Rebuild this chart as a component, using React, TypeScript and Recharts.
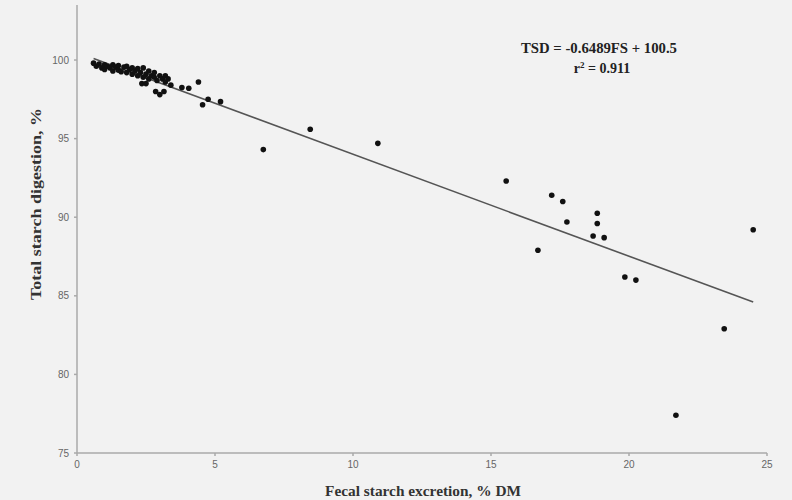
import React from "react";
import { ScatterChart, Scatter, XAxis, YAxis } from "recharts";

// fecal starch excretion, % DM
const fs = [
  0.6, 0.7, 0.8, 0.9, 1.0, 1.0, 1.1, 1.2, 1.3, 1.3, 1.4, 1.5, 1.5, 1.6, 1.7, 1.8,
  1.8, 1.9, 2.0, 2.0, 2.1, 2.2, 2.2, 2.3, 2.4, 2.4, 2.5, 2.6, 2.6, 2.7, 2.8, 2.8,
  2.9, 3.0, 3.1, 3.2, 3.2, 3.3, 3.4, 2.35, 2.5, 2.85, 3.0, 3.15, 3.8, 4.05, 4.4,
  4.55, 4.75, 5.2, 6.75, 8.45, 10.9, 15.55, 16.7, 17.2, 17.6, 17.75, 18.7, 18.85,
  18.85, 19.1, 19.85, 20.25, 21.7, 23.45, 24.5,
];
// total starch digestion, %
const tsd = [
  99.8, 99.6, 99.75, 99.5, 99.7, 99.4, 99.6, 99.5, 99.7, 99.3, 99.55, 99.65, 99.35,
  99.25, 99.55, 99.6, 99.2, 99.4, 99.5, 99.1, 99.3, 99.45, 99.0, 99.2, 99.5, 98.9,
  99.1, 99.3, 98.8, 99.0, 98.9, 99.2, 98.7, 99.0, 98.8, 99.0, 98.6, 98.8, 98.4,
  98.5, 98.5, 98.0, 97.8, 98.0, 98.25, 98.2, 98.6, 97.15, 97.5, 97.35, 94.3, 95.6,
  94.7, 92.3, 87.9, 91.4, 91.0, 89.7, 88.8, 90.25, 89.6, 88.7, 86.2, 86.0, 77.4,
  82.9, 89.2,
];
// fitted line end points (TSD = -0.6489FS + 100.5)
const fitFs = [0.6, 24.5];
const fitTsd = [100.1, 84.6];

const xTicks = [0, 5, 10, 15, 20, 25];
const yTicks = [75, 80, 85, 90, 95, 100];

const points = fs.map((x, i) => ({ fs: x, tsd: tsd[i] }));
const fit = fitFs.map((x, i) => ({ fs: x, tsd: fitTsd[i] }));

const serif = "'Liberation Serif', 'Times New Roman', serif";
const tickStyle = { fontFamily: "'Liberation Sans', Arial, sans-serif", fontSize: 10, fill: "#666" };

export default function App() {
  return (
    <div style={{ position: "absolute", left: 0, top: 0, width: 792, height: 500, background: "#f2f2f2" }}>
      <ScatterChart
        width={792}
        height={500}
        margin={{ top: 5, right: 25, bottom: 17, left: 37 }}
      >
        <XAxis
          type="number"
          dataKey="fs"
          domain={[0, 25]}
          ticks={xTicks}
          height={30}
          tickSize={3}
          tickMargin={5}
          stroke="#aaa"
          strokeWidth={1.5}
          tick={tickStyle}
        />
        <YAxis
          type="number"
          dataKey="tsd"
          domain={[75, 103.5]}
          ticks={yTicks}
          width={40}
          tickSize={3}
          tickMargin={5}
          stroke="#aaa"
          strokeWidth={1.5}
          tick={tickStyle}
          allowDataOverflow
        />
        <Scatter
          data={fit}
          line={{ stroke: "#555", strokeWidth: 1.6 }}
          shape={() => null}
          isAnimationActive={false}
        />
        <Scatter data={points} fill="#111" isAnimationActive={false}
          shape={(p: any) => <circle cx={p.cx} cy={p.cy} r={2.8} fill="#111" />}
        />
      </ScatterChart>
      <svg
        width={792}
        height={500}
        style={{ position: "absolute", left: 0, top: 0, pointerEvents: "none" }}
      >
        <text x={599} y={53} textAnchor="middle" fontFamily={serif} fontWeight="bold" fontSize={14}
          fill="#222" textLength={156} lengthAdjust="spacingAndGlyphs">
          TSD = -0.6489FS + 100.5
        </text>
        <text x={602} y={73} textAnchor="middle" fontFamily={serif} fontWeight="bold" fontSize={14} fill="#222">
          r<tspan dy={-5} fontSize={9}>2</tspan><tspan dy={5}> = 0.911</tspan>
        </text>
        <text x={423} y={496} textAnchor="middle" fontFamily={serif} fontWeight="bold" fontSize={15}
          fill="#333" textLength={196} lengthAdjust="spacingAndGlyphs">
          Fecal starch excretion, % DM
        </text>
        <text
          x={0}
          y={0}
          transform="translate(41,204) rotate(-90)"
          textAnchor="middle"
          fontFamily={serif}
          fontWeight="bold"
          fontSize={15}
          fill="#333"
          textLength={192}
          lengthAdjust="spacingAndGlyphs"
        >
          Total starch digestion, %
        </text>
      </svg>
    </div>
  );
}
